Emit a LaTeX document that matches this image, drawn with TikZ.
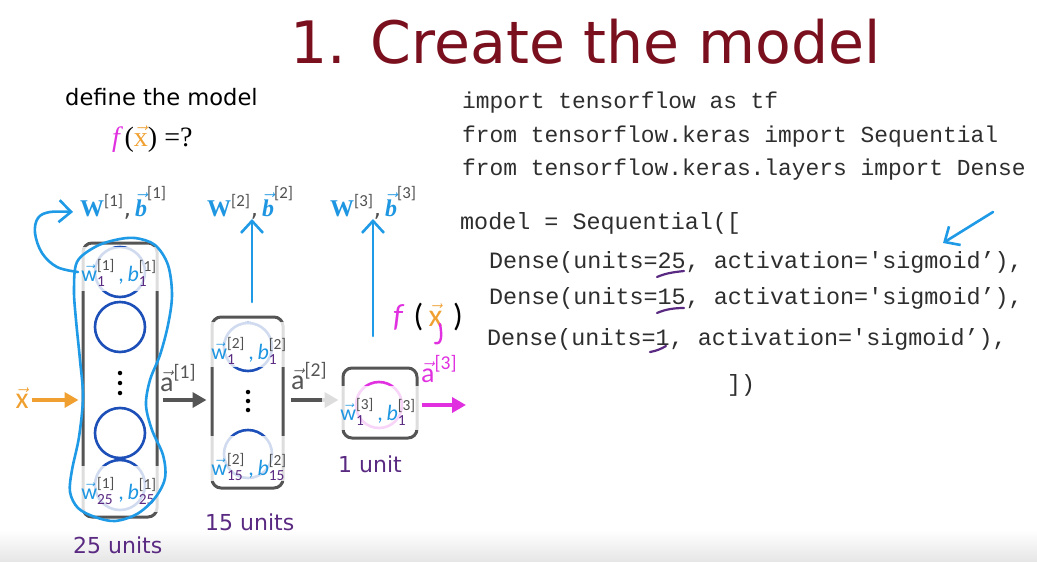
\documentclass[tikz,border=0pt]{standalone}
\usepackage{fontspec}
\usepackage{amsmath}
\setmainfont{DejaVu Sans}
\newfontfamily\codefont{Liberation Mono}
\newfontfamily\timesfont{Liberation Serif}
\newfontfamily\calfont{Carlito}
\usetikzlibrary{arrows.meta}

\definecolor{titlered}{HTML}{7A0F1E}
\definecolor{wblue}{HTML}{1E96E1}
\definecolor{penblue}{HTML}{1E9AE6}
\definecolor{nblue}{HTML}{1D4FB8}
\definecolor{upurple}{HTML}{5A2A82}
\definecolor{supgray}{HTML}{505050}
\definecolor{boxgray}{HTML}{555555}
\definecolor{mag}{HTML}{E030E0}
\definecolor{xorange}{HTML}{F0A030}
\definecolor{codegray}{HTML}{2E2E2E}

% parameter labels above each layer
\newcommand{\Wlab}[1]{{\color{wblue}$\text{\timesfont\bfseries W}^{\text{\calfont\color{supgray}[#1]}}$}{\color{supgray},}\,{\color{wblue}$\vec{\text{\timesfont\bfseries\itshape b}}^{\text{\calfont\color{supgray}[#1]}}$}}
% per-unit parameter labels
\newcommand{\wblab}[2]{{\color{wblue}$\vec{\text{w}}^{\text{\color{supgray}[#1]}}_{\text{\color{upurple}#2}}$}{\color{wblue}\,,\,}{\color{wblue}$\text{\itshape b}^{\text{\color{supgray}[#1]}}_{\text{\color{upurple}#2}}$}}
% activation labels
\newcommand{\alab}[2]{{\color{#2}$\vec{\text{a}}^{\text{[#1]}}$}}

\tikzset{
  code/.style={anchor=base west, inner sep=0pt, text=codegray,
    font=\codefont\fontsize{23.4}{28}\selectfont},
  codehead/.style={code, font=\codefont\fontsize{22.9}{28}\selectfont},
  layerbox/.style={draw=boxgray, line width=3pt, rounded corners=9pt},
  neuron/.style={circle, draw=nblue, line width=2.6pt, inner sep=0pt},
  outneuron/.style={circle, draw=mag, line width=2.6pt, inner sep=0pt},
  fade/.style={fill=white, fill opacity=0.8, draw=none},
  dotnode/.style={circle, fill=black, inner sep=0pt, minimum size=4.5pt},
  garrow/.style={draw=boxgray, line width=4pt, -{Triangle[length=14pt,width=15pt]}},
  oarrow/.style={draw=xorange, line width=4pt, -{Triangle[length=14pt,width=15pt]}},
  marrow/.style={draw=mag, line width=4pt, -{Triangle[length=14pt,width=15pt]}},
  pen/.style={draw=penblue, line width=2.6pt, line cap=round, line join=round},
  penarrow/.style={pen, -{Straight Barb[length=12pt,width=22pt]}},
  ulpen/.style={draw=upurple, line width=2.2pt, line cap=round},
  magpen/.style={draw=mag, line width=2.4pt, line cap=round},
  unitlab/.style={anchor=base west, inner sep=0pt, text=upurple,
    font=\fontsize{22}{26}\selectfont},
  innerlab/.style={inner sep=0pt, font=\calfont\fontsize{22}{24}\selectfont},
  Wlabel/.style={anchor=base west, inner sep=0pt, font=\fontsize{24}{28}\selectfont},
  alabel/.style={anchor=base west, inner sep=0pt, font=\calfont\fontsize{28}{30}\selectfont},
}

\begin{document}
\begin{tikzpicture}[x=1pt, y=-1pt]
\useasboundingbox (0,0) rectangle (1037,562);
\fill[white] (0,0) rectangle (1037,562);
\shade[top color=white, bottom color=black!10] (0,530) rectangle (1037,562);

% title
\node[anchor=base west, inner sep=0pt, text=titlered,
  font=\fontsize{58.5}{66}\selectfont] (title) at (290,63) {1. Create the model};

\node[anchor=base west, inner sep=0pt, font=\fontsize{22.6}{26}\selectfont]
  (define) at (65,105) {define the model};
\node[anchor=base west, inner sep=0pt, font=\timesfont\fontsize{28}{30}\selectfont]
  (fx) at (112,146) {{\color{mag}\itshape f\,}({\color{xorange}$\vec{\text{x}}$}) =?};

% code
\node[codehead] (c1) at (462,108) {import tensorflow as tf};
\node[codehead] (c2) at (462,142) {from tensorflow.keras import Sequential};
\node[codehead] (c3) at (462,175) {from tensorflow.keras.layers import Dense};
\node[code] (c4) at (460,229) {model = Sequential([};
\node[code] (c5) at (489,268) {Dense(units=25, activation=\char"0027sigmoid’),};
\node[code] (c6) at (489,304) {Dense(units=15, activation=\char"0027sigmoid’),};
\node[code] (c7) at (487,345) {Dense(units=1, activation=\char"0027sigmoid’),};
\node[code] (c8) at (727,391) {])};

% underlines on the unit counts
\draw[ulpen] (657,277) .. controls (666,273) and (675,272) .. (684,271);
\draw[ulpen] (657,313) .. controls (666,309) and (675,308) .. (684,308);
\draw[ulpen] (650,352) .. controls (656,351) and (661,349) .. (666,346);

% pointer in the code
\coordinate (ptail) at (993,212);
\coordinate (ptip) at (943,243);
\draw[penarrow] (ptail) -- (ptip);

% ---------------- layer 1 ----------------
\node[neuron, minimum size=50pt] (n11) at (120,272) {};
\node[neuron, minimum size=50pt] (n12) at (120,327) {};
\node[dotnode] (d11) at (120,373) {};
\node[dotnode] (d12) at (120,383) {};
\node[dotnode] (d13) at (120,393) {};
\node[neuron, minimum size=50pt] (n13) at (120,433) {};
\node[neuron, minimum size=50pt] (n14) at (120,485) {};
\node[layerbox, minimum width=74pt, minimum height=274pt] (L1) at (120,380) {};

% ---------------- layer 2 ----------------
\node[neuron, minimum size=48pt] (n21) at (248,347) {};
\node[dotnode] (d21) at (248,392) {};
\node[dotnode] (d22) at (248,401) {};
\node[dotnode] (d23) at (248,410) {};
\node[neuron, minimum size=48pt] (n22) at (248,454) {};
\node[layerbox, minimum width=71pt, minimum height=171pt] (L2) at (247.5,402.5) {};

% ---------------- layer 3 ----------------
\node[outneuron, minimum size=46pt] (n31) at (379,405) {};
\node[layerbox, minimum width=74pt, minimum height=70pt] (L3) at (380,403) {};

% signal flow
\coordinate (row) at (0,400);
\coordinate (rowout) at (0,405);
\node[inner sep=0pt, font=\calfont\fontsize{30}{30}\selectfont] (xin) at (22,398)
  {\color{xorange}$\vec{\text{x}}$};
\draw[oarrow] (xin.east |- row) ++(3,0) -- ([xshift=-3pt]L1.west |- row);
\draw[garrow] ([xshift=4pt]L1.east |- row) -- ([xshift=-4pt]L2.west |- row);
\draw[garrow] ([xshift=6pt]L2.east |- row) -- ([xshift=-3pt]L3.west |- row);

% faded first and last units
\fill[fade] (79,247) rectangle (161,291);
\fill[fade] (79,466) rectangle (161,512);
\fill[fade] (208,322) rectangle (287,367);
\fill[fade] (208,436) rectangle (287,481);
\fill[fade] (322,386) rectangle (421,430);

\coordinate (yout) at (466,405);
\draw[marrow] ([xshift=3pt]L3.east |- rowout) -- (yout);

% unit parameter labels
\node[innerlab] (p11) at (119,273) {\wblab{1}{1}};
\node[innerlab] (p12) at (119,491) {\wblab{1}{25}};
\node[innerlab] (p21) at (249,351) {\wblab{2}{1}};
\node[innerlab] (p22) at (249,467) {\wblab{2}{15}};
\node[innerlab] (p31) at (378,412) {\wblab{3}{1}};

% activations
\node[alabel, text=boxgray] (a1) at (160,391) {\alab{1}{boxgray}};
\node[alabel, text=boxgray] (a2) at (291,389) {\alab{2}{boxgray}};
\node[alabel, text=mag] (a3) at (421,382) {\alab{3}{mag}};

% unit counts
\node[unitlab] (u1) at (73,553) {25 units};
\node[unitlab] (u2) at (205,530) {15 units};
\node[unitlab] (u3) at (338,472) {1 unit};

% layer parameters
\node[Wlabel] (W1) at (80,216) {\Wlab{1}};
\node[Wlabel] (W2) at (207,216) {\Wlab{2}};
\node[Wlabel] (W3) at (330,216) {\Wlab{3}};

% pen annotations
\coordinate (up2) at (252,302);
\coordinate (up3) at (373,336);
\draw[penarrow] (up2) -- (up2 |- W2.south);
\draw[penarrow] (up3) -- (up3 |- W3.south);
\draw[penarrow] plot[smooth, tension=0.6] coordinates
  {(78,272) (57,267) (42,253) (35,233) (38,218) (50,212) (73,212)};
\draw[pen] plot[smooth cycle, tension=0.55] coordinates
  {(77,262) (74,290) (76,320) (80,360) (83,397) (79,437) (72,470) (70,492)
   (78,508) (95,517) (115,521) (137,514) (155,498) (165,478) (163,455)
   (152,430) (146,405) (150,380) (160,355) (168,325) (172,295) (168,265)
   (155,245) (135,238) (115,240) (95,247)};

% hand-written output
\node[anchor=base west, inner sep=0pt, font=\calfont\fontsize{32}{36}\selectfont]
  (fxh) at (393,326) {{\color{mag}\itshape f}\,\,(\,{\color{xorange}$\vec{\text{x}}$}\,\,)};
\draw[magpen] (440,324) .. controls (442,335) and (442,345) .. (435,343);
\end{tikzpicture}
\end{document}
